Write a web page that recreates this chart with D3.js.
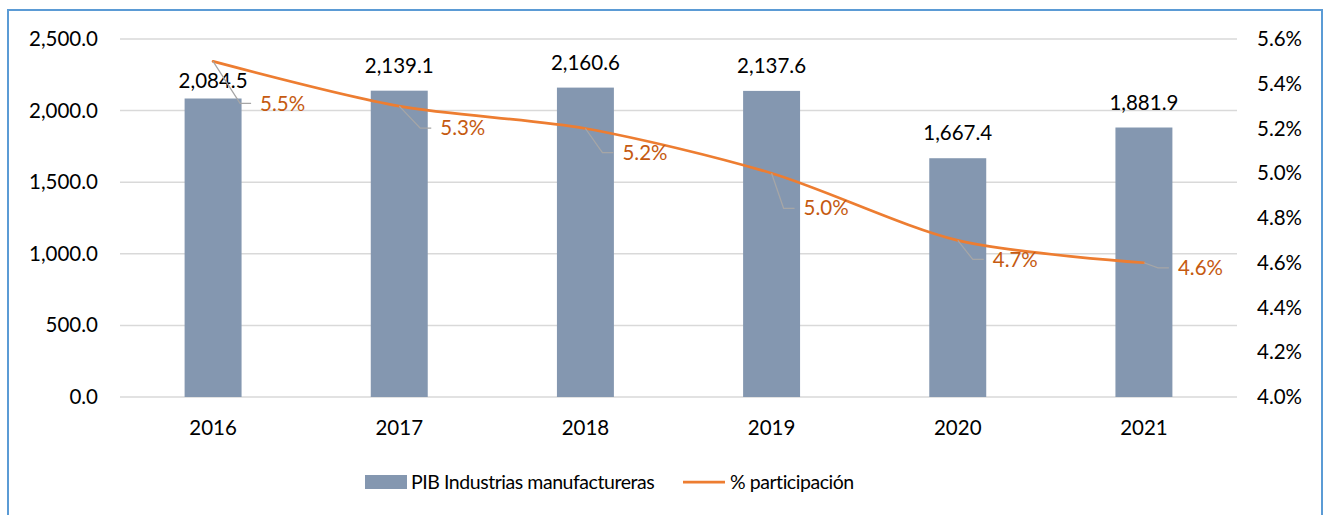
<!DOCTYPE html>
<html><head><meta charset="utf-8">
<script src="https://cdn.jsdelivr.net/npm/d3@7"></script>
<style>
html,body{margin:0;padding:0;background:#fff;}
text{font-family:Lato, "Open Sans", sans-serif;}
</style></head>
<body><svg id="c" width="1323" height="515"></svg>
<script>
const years = ["2016","2017","2018","2019","2020","2021"];
const pib = [2084.5, 2139.1, 2160.6, 2137.6, 1667.4, 1881.9];
const pct = [5.5, 5.3, 5.2, 5.0, 4.7, 4.6];
const leftTicks = [0, 500, 1000, 1500, 2000, 2500];
const rightTicks = [4.0, 4.2, 4.4, 4.6, 4.8, 5.0, 5.2, 5.4, 5.6];
const seriesNames = ["PIB Industrias manufactureras", "% participación"];

// label layout (leader knee offsets, bar label offsets)
const leaderKnee = [[27,42],[21,22],[17,24],[12,35],[15,19],[14,5]];
const barLabelGap = [18,25,25,25,25,25];

const NUM = 20.5;
const svg = d3.select("#c");
const plot = {left:120, right:1237, top:39, bottom:397};

svg.append("rect").attr("x",8).attr("y",10).attr("width",1314).attr("height",520)
  .attr("fill","#fff").attr("stroke","#5b9bd5").attr("stroke-width",2);

const x = d3.scaleBand().domain(years).range([plot.left, plot.right])
  .paddingInner(0.694).paddingOuter(0.347);
const yL = d3.scaleLinear().domain([0,2500]).range([plot.bottom, plot.top]);
const yR = d3.scaleLinear().domain([4.0,5.6]).range([plot.bottom, plot.top]);

// gridlines
svg.append("g").selectAll("line").data(leftTicks).join("line")
  .attr("x1",plot.left).attr("x2",plot.right)
  .attr("y1",d=>yL(d)).attr("y2",d=>yL(d))
  .attr("stroke","#d9d9d9").attr("stroke-width",1.5);

// left axis
const axL = d3.axisLeft(yL).tickValues(leftTicks).tickSize(0).tickPadding(0)
  .tickFormat(d=>d3.format(",.1f")(d));
const gL = svg.append("g").attr("transform",`translate(98,0)`).call(axL);
gL.select(".domain").remove();
gL.selectAll("text").attr("font-size",NUM).attr("fill","#000").attr("font-family","Lato");

// right axis
const axR = d3.axisRight(yR).tickValues(rightTicks).tickSize(0).tickPadding(0)
  .tickFormat(d=>d.toFixed(1)+"%");
const gR = svg.append("g").attr("transform",`translate(1257,0)`).call(axR);
gR.select(".domain").remove();
gR.selectAll("text").attr("font-size",NUM).attr("fill","#000").attr("font-family","Lato");

// x axis
const axX = d3.axisBottom(x).tickSize(0).tickPadding(0);
const gX = svg.append("g").attr("transform",`translate(0,${plot.bottom+23})`).call(axX);
gX.select(".domain").remove();
gX.selectAll("text").attr("font-size",NUM).attr("fill","#000").attr("font-family","Lato");

// bars
svg.append("g").selectAll("rect").data(pib).join("rect")
  .attr("x",(d,i)=>x(years[i])).attr("width",x.bandwidth())
  .attr("y",d=>yL(d)).attr("height",d=>plot.bottom-yL(d))
  .attr("fill","#8497b0");

// bar labels
svg.append("g").selectAll("text").data(pib).join("text")
  .attr("x",(d,i)=>x(years[i])+x.bandwidth()/2)
  .attr("y",(d,i)=>yL(d)-barLabelGap[i])
  .attr("dy","0.35em").attr("text-anchor","middle")
  .attr("font-size",NUM).attr("fill","#000")
  .text(d=>d3.format(",.1f")(d));

// line
const pts = pct.map((v,i)=>[x(years[i])+x.bandwidth()/2, yR(v)]);
svg.append("path").datum(pts)
  .attr("d", d3.line().curve(d3.curveCardinal.tension(0.15)))
  .attr("fill","none").attr("stroke","#ed7d31").attr("stroke-width",2.75)
  .attr("stroke-linecap","round");

// leaders & pct labels
const lg = svg.append("g");
pts.forEach((p,i)=>{
  const kx = p[0]+leaderKnee[i][0], ky = p[1]+leaderKnee[i][1];
  lg.append("polyline").attr("points",`${p[0]},${p[1]} ${kx},${ky} ${kx+11},${ky}`)
    .attr("fill","none").attr("stroke","#a6a6a6").attr("stroke-width",1.25);
  lg.append("text").attr("x",kx+20).attr("y",ky).attr("dy","0.35em")
    .attr("font-size",NUM).attr("fill","#c55a11").text(pct[i].toFixed(1)+"%");
});

// legend
const leg = svg.append("g");
leg.append("rect").attr("x",365).attr("y",475).attr("width",42).attr("height",14).attr("fill","#8497b0");
leg.append("text").attr("x",411).attr("y",482).attr("dy","0.35em").attr("font-size",19.5)
  .attr("letter-spacing",-0.45).attr("fill","#000").text(seriesNames[0]);
leg.append("line").attr("x1",683).attr("x2",725).attr("y1",482).attr("y2",482).attr("stroke","#ed7d31").attr("stroke-width",2.75);
leg.append("text").attr("x",730).attr("y",482).attr("dy","0.35em").attr("font-size",19.5)
  .attr("letter-spacing",-0.45).attr("fill","#000").text(seriesNames[1]);
</script></body></html>
